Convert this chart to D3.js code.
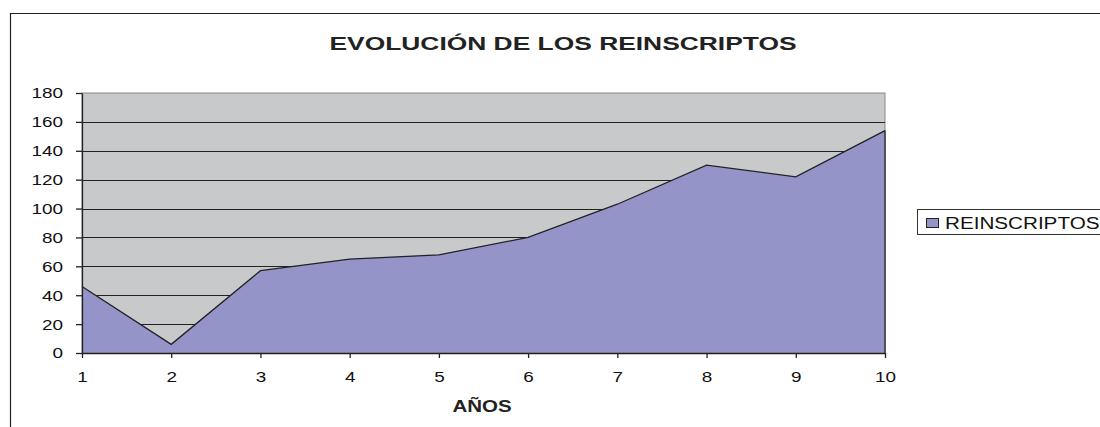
<!DOCTYPE html>
<html>
<head>
<meta charset="utf-8">
<script src="https://cdn.jsdelivr.net/npm/d3@7"></script>
<style>
  body { margin: 0; background: #fff; }
  svg { display: block; font-family: Arial, "Liberation Sans", sans-serif; }
</style>
</head>
<body>
<div id="chart"></div>
<script>
// data
var years = [1, 2, 3, 4, 5, 6, 7, 8, 9, 10];
var reinscriptos = [46, 6, 57, 65, 68, 80, 103, 130, 122, 154];
var yTicks = [0, 20, 40, 60, 80, 100, 120, 140, 160, 180];

var W = 1100, H = 427;
var margin = {top: 93, right: 215, bottom: 74, left: 82},
    width = W - margin.left - margin.right,
    height = H - margin.top - margin.bottom;

// the original text is wider than plain Arial, so widen it
function stretch(sel, k) {
  sel.each(function() {
    var len = this.getComputedTextLength();
    d3.select(this)
      .attr("textLength", len * k)
      .attr("lengthAdjust", "spacingAndGlyphs");
  });
}

var svg = d3.select("#chart").append("svg")
    .attr("width", W)
    .attr("height", H);

// outer chart border (cropped on right and bottom)
svg.append("path")
    .attr("d", "M10.5," + H + "V13.5H" + W)
    .attr("fill", "none")
    .attr("stroke", "#222")
    .attr("stroke-width", 1.2);

var title = svg.append("text")
    .attr("x", 563)
    .attr("y", 50)
    .attr("text-anchor", "middle")
    .style("font-size", "19px")
    .style("font-weight", "bold")
    .style("fill", "#222")
    .text("EVOLUCIÓN DE LOS REINSCRIPTOS");
title.attr("textLength", 467).attr("lengthAdjust", "spacingAndGlyphs");

var g = svg.append("g")
    .attr("transform", "translate(" + margin.left + "," + margin.top + ")");

var x = d3.scaleLinear()
    .domain([1, 10])
    .range([0, width]);

var y = d3.scaleLinear()
    .domain([0, 180])
    .range([height, 0]);

// plot background
g.append("rect")
    .attr("width", width)
    .attr("height", height)
    .attr("fill", "#c8c9cb")
    .attr("stroke", "#888")
    .attr("stroke-width", 1);

// gridlines
g.selectAll(".grid")
  .data(yTicks.filter(function(d) { return d > 0 && d < 180; }))
  .enter()
  .append("line")
    .attr("x1", 0)
    .attr("x2", width)
    .attr("y1", function(d) { return Math.round(y(d)) + 0.5; })
    .attr("y2", function(d) { return Math.round(y(d)) + 0.5; })
    .attr("stroke", "#222")
    .attr("stroke-width", 1);

var data = years.map(function(d, i) { return {year: d, value: reinscriptos[i]}; });

var area = d3.area()
    .x(function(d) { return x(d.year); })
    .y0(height)
    .y1(function(d) { return y(d.value); });

g.append("path")
    .datum(data)
    .attr("d", area)
    .attr("fill", "#9594c8");

var line = d3.line()
    .x(function(d) { return x(d.year); })
    .y(function(d) { return y(d.value); });

g.append("path")
    .datum(data)
    .attr("d", line)
    .attr("fill", "none")
    .attr("stroke", "#222")
    .attr("stroke-width", 1.3);

// right edge of area
g.append("line")
    .attr("x1", width).attr("x2", width)
    .attr("y1", y(reinscriptos[reinscriptos.length - 1])).attr("y2", height)
    .attr("stroke", "#222")
    .attr("stroke-width", 1.3);

// axes
var xAxis = g.append("g")
    .attr("transform", "translate(0," + height + ")")
    .call(d3.axisBottom(x).tickValues(years).tickSize(5).tickSizeOuter(0).tickPadding(13));

var yAxis = g.append("g")
    .call(d3.axisLeft(y).tickValues(yTicks).tickSize(6).tickSizeOuter(0).tickPadding(13));

[xAxis, yAxis].forEach(function(a) {
  a.selectAll("path, line").attr("stroke", "#222").attr("stroke-width", 1.3);
  a.selectAll("text").style("font-size", "15.5px").style("fill", "#111");
  stretch(a.selectAll("text"), 1.22);
});

var xTitle = svg.append("text")
    .attr("x", 482)
    .attr("y", 412)
    .attr("text-anchor", "middle")
    .style("font-size", "16px")
    .style("font-weight", "bold")
    .style("fill", "#222")
    .text("AÑOS");
stretch(xTitle, 1.28);

// legend
var legend = svg.append("g");
legend.append("rect")
    .attr("x", 917.5).attr("y", 209.5)
    .attr("width", 200).attr("height", 25)
    .attr("fill", "#fff")
    .attr("stroke", "#333");
legend.append("rect")
    .attr("x", 926.5).attr("y", 218.5)
    .attr("width", 12).attr("height", 9)
    .attr("fill", "#9594c8")
    .attr("stroke", "#222");
var legText = legend.append("text")
    .attr("x", 945)
    .attr("y", 228.5)
    .style("font-size", "16px")
    .style("fill", "#111")
    .text("REINSCRIPTOS");
stretch(legText, 1.29);
</script>
</body>
</html>
